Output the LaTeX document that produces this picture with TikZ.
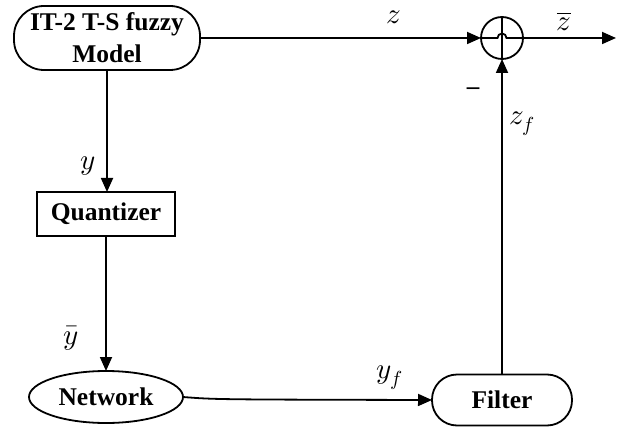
\documentclass[tikz,border=0pt]{standalone}
\usepackage{fontspec}
\usepackage{unicode-math}
\setmainfont{Liberation Serif}
\setmathfont{Latin Modern Math}
\usetikzlibrary{arrows.meta,shapes.geometric}
\begin{document}
\begin{tikzpicture}[x=1pt,y=-1pt,
  every node/.style={inner sep=0pt, outer sep=0pt},
  blk/.style={draw, line width=1.8pt, font=\bfseries\fontsize{25.5}{32}\selectfont, align=center},
  lbl/.style={font=\fontsize{29}{32}\selectfont},
  conn/.style={line width=1.8pt, -{Triangle[length=14pt,width=12pt]}},
  plain/.style={line width=1.8pt}]
\useasboundingbox (0,0) rectangle (628,430);
\node[blk, rounded corners=30pt, minimum width=186pt, minimum height=64pt] (model) at (107,38) {IT-2 T-S fuzzy\\Model};
\node[blk, minimum width=138pt, minimum height=44pt] (quant) at (106,214) {Quantizer};
\node[blk, ellipse, minimum width=154pt, minimum height=52pt] (net) at (106,397) {Network};
\node[blk, rounded corners=25pt, minimum width=140pt, minimum height=51pt] (filt) at (502,400) {Filter};
\node[draw, circle, line width=1.8pt, minimum size=42pt] (sum) at (502,38) {};
\coordinate (out) at (616,38);
% connectors
\draw[conn] (model.south -| 107,0) -- (quant.north -| 107,0);
\draw[conn] (quant.south) -- (net.north);
\draw[conn] (net.east) .. controls (215,399.5) .. (filt.west);
\draw[conn] (filt.north) -- (sum.south);
\draw[conn] (model.east) -- (sum.west);
\draw[conn] (sum.east) -- (out);
% inside the summing circle
\draw[plain] (sum.south) -- (sum.north);
\draw[plain] (sum.west) -- (497.5,38) arc[start angle=180,end angle=0,radius=4.5pt] -- (sum.east);
% labels
\node[lbl] (ly) at (88,166) {$y$};
\node[lbl] (lyb) at (71,338) {$\bar{y}$};
\node[lbl] (lyf) at (390,378) {$y_f$};
\node[lbl] (lz) at (394,17) {$z$};
\node[lbl] (lzb) at (564,21) {$\overline{z}$};
\node[lbl] (lzf) at (522,124) {$z_f$};
\node[font=\bfseries\fontsize{25}{30}\selectfont] (lminus) at (473,91) {–};
\end{tikzpicture}
\end{document}
